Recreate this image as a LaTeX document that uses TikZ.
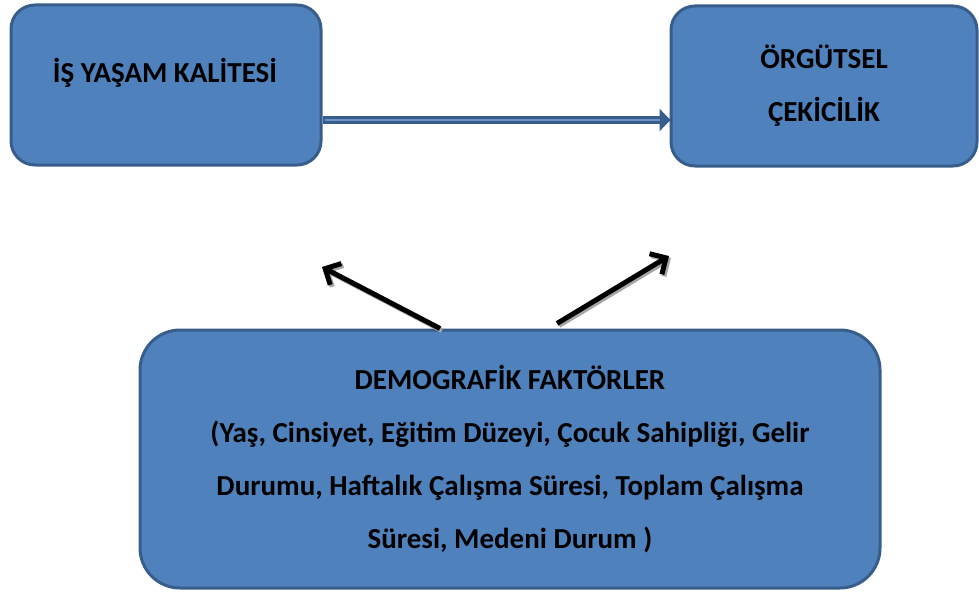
\documentclass[tikz,border=0pt]{standalone}
\usepackage{fontspec}
\setmainfont{Carlito}
\usetikzlibrary{arrows.meta}
\definecolor{boxfill}{HTML}{4F81BD}
\definecolor{boxline}{HTML}{385D8A}
\tikzset{
  bluebox/.style={draw=boxline, line width=3pt, fill=boxfill, rounded corners=24pt, inner sep=0pt},
  boxtext/.style={font=\bfseries\fontsize{29}{53}\selectfont, align=center, text=black},
  blackarrow/.style={line width=5pt, black, -{Straight Barb[length=12pt,width=24pt,line width=5pt]}},
  shadowarrow/.style={line width=5pt, black!35, -{Straight Barb[length=12pt,width=24pt,line width=5pt]}},
}
\begin{document}
\begin{tikzpicture}[x=1pt,y=-1pt]
\useasboundingbox (0,0) rectangle (979,594);
\node[bluebox, minimum width=310pt, minimum height=160pt] (box1) at (166,85) {};
\node[boxtext] (t1) at (165,73) {İŞ YAŞAM KALİTESİ};
\node[bluebox, minimum width=306pt, minimum height=160pt, boxtext] (box2) at (824,86) {ÖRGÜTSEL\\ÇEKİCİLİK};
\node[bluebox, rounded corners=40pt, minimum width=740pt, minimum height=258pt, boxtext] (box3) at (510,459)
  {DEMOGRAFİK FAKTÖRLER\\(Yaş, Cinsiyet, Eğitim Düzeyi, Çocuk Sahipliği, Gelir\\Durumu, Haftalık Çalışma Süresi, Toplam Çalışma\\Süresi, Medeni Durum )};
% horizontal connector
\coordinate (hy) at (0,120);
\draw[boxline, line width=8pt, -{Triangle[length=11pt,width=22pt]}] (box1.east |- hy) -- ([xshift=1pt]box2.west |- hy);
\draw[boxfill!85!white, line width=1.5pt] ([xshift=2pt]box1.east |- hy) -- ([xshift=-10pt]box2.west |- hy);
% diagonal arrows
\coordinate (tipL) at (322,267);
\coordinate (tipR) at (669,256);
\draw[shadowarrow] ([xshift=-68pt,yshift=-2pt]box3.north) -- ([xshift=2pt,yshift=-2pt]tipL);
\draw[shadowarrow] ([xshift=49pt,yshift=3pt]box3.north) -- ([xshift=2pt,yshift=-2pt]tipR);
\draw[blackarrow] ([xshift=-70pt]box3.north) -- (tipL);
\draw[blackarrow] ([xshift=47pt,yshift=5pt]box3.north) -- (tipR);
\end{tikzpicture}
\end{document}
